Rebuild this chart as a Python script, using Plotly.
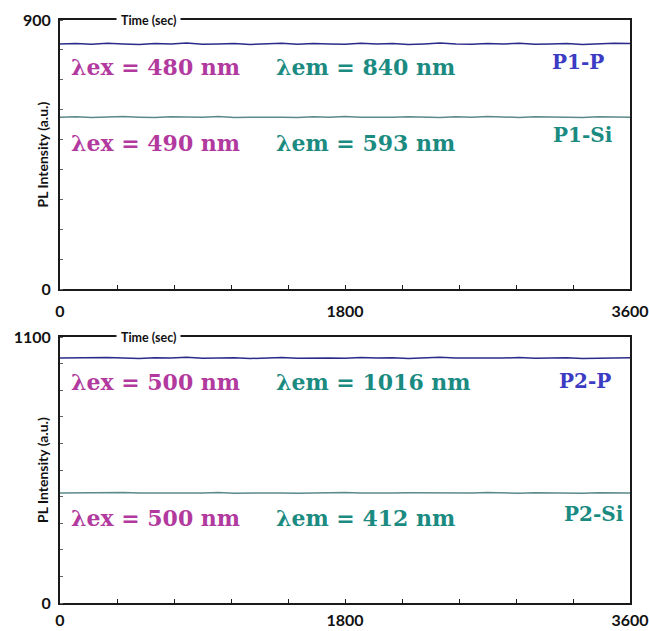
import plotly.graph_objects as go

# ---- data -------------------------------------------------------------
time_s = list(range(0, 3601, 100))

p1_p = [820, 821, 819, 822, 820, 818, 821, 820, 823, 819, 820, 821, 818,
        820, 822, 819, 821, 820, 819, 822, 820, 821, 818, 820, 823, 820,
        819, 821, 820, 822, 819, 820, 821, 818, 820, 822, 821]
p1_si = [575, 576, 574, 575, 577, 575, 574, 576, 575, 575, 577, 574, 575,
         576, 575, 574, 576, 575, 577, 575, 574, 575, 576, 575, 574, 576,
         575, 577, 575, 574, 576, 575, 575, 574, 576, 575, 575]
p2_p = [1013, 1014, 1012, 1015, 1013, 1011, 1014, 1013, 1016, 1012, 1013,
        1014, 1011, 1013, 1015, 1012, 1014, 1013, 1012, 1015, 1013, 1014,
        1011, 1013, 1016, 1013, 1012, 1014, 1013, 1015, 1012, 1013, 1014,
        1011, 1013, 1015, 1014]
p2_si = [455, 456, 454, 455, 457, 455, 454, 456, 455, 455, 457, 454, 455,
         456, 455, 454, 456, 455, 457, 455, 454, 455, 456, 455, 454, 456,
         455, 457, 455, 454, 456, 455, 455, 454, 456, 455, 455]

x_ticks = [0, 1800, 3600]
y_max_top = 900
y_max_bottom = 1100

labels_top = [("λex = 480 nm", "λem = 840 nm", "P1-P"),
              ("λex = 490 nm", "λem = 593 nm", "P1-Si")]
labels_bottom = [("λex = 500 nm", "λem = 1016 nm", "P2-P"),
                 ("λex = 500 nm", "λem = 412 nm", "P2-Si")]

# ---- styling ----------------------------------------------------------
W, H = 649, 631
L, R = 60, 630
TOP = (20, 289)       # pixel rows of the upper panel (top, bottom)
BOT = (337, 603)      # pixel rows of the lower panel

C_P = "#2b2b8a"
C_SI = "#5b8a88"
C_EX = "#b2399e"
C_EM = "#1b8b82"
C_NAME = "#3b3bc4"
AXIS = "#1a1a1a"
LABEL_FONT = "DejaVu Serif"
TICK_FONT = "Lato"

fig = go.Figure()
fig.add_trace(go.Scatter(x=time_s, y=p1_p, mode="lines",
                         line=dict(color=C_P, width=1.5), xaxis="x", yaxis="y"))
fig.add_trace(go.Scatter(x=time_s, y=p1_si, mode="lines",
                         line=dict(color=C_SI, width=1.5), xaxis="x", yaxis="y"))
fig.add_trace(go.Scatter(x=time_s, y=p2_p, mode="lines",
                         line=dict(color=C_P, width=1.5), xaxis="x2", yaxis="y2"))
fig.add_trace(go.Scatter(x=time_s, y=p2_si, mode="lines",
                         line=dict(color=C_SI, width=1.5), xaxis="x2", yaxis="y2"))

plot_h = BOT[1] - TOP[0]


def ydomain(rows):
    return [(BOT[1] - rows[1]) / plot_h, (BOT[1] - rows[0]) / plot_h]


def xaxis_cfg(anchor, standoff):
    return dict(domain=[0, 1], range=[0, 3600], anchor=anchor, automargin=False,
                tickvals=x_ticks, ticktext=[str(v) for v in x_ticks],
                ticks="inside", ticklen=4, tickcolor=AXIS,
                minor=dict(dtick=360, tick0=0, ticks="inside", ticklen=4, tickcolor=AXIS),
                showline=True, linecolor=AXIS, linewidth=2, mirror=True,
                showgrid=False, zeroline=False, ticklabelstandoff=standoff,
                tickfont=dict(family=TICK_FONT, size=16, color="#111", weight="bold"))


def yaxis_cfg(anchor, rows, ymax, step):
    return dict(domain=ydomain(rows), range=[0, ymax], anchor=anchor, automargin=False,
                tickvals=[0, ymax], ticktext=["0", str(ymax)],
                ticks="", minor=dict(dtick=step, tick0=0, ticks="inside",
                                     ticklen=3, tickcolor="#666"),
                showline=True, linecolor=AXIS, linewidth=2, mirror=True,
                showgrid=False, zeroline=False, ticklabelstandoff=4,
                tickfont=dict(family=TICK_FONT, size=16, color="#111", weight="bold"))


fig.update_layout(
    width=W, height=H, showlegend=False,
    paper_bgcolor="white", plot_bgcolor="white",
    margin=dict(l=L, r=W - R, t=TOP[0], b=H - BOT[1]),
    xaxis=xaxis_cfg("y", 7), yaxis=yaxis_cfg("x", TOP, y_max_top, 100),
    xaxis2=xaxis_cfg("y2", 2), yaxis2=yaxis_cfg("x2", BOT, y_max_bottom, 110),
)

ann = []


def px_to_dom(px, py, rows):
    return (px - L) / (R - L), (rows[1] - py) / (rows[1] - rows[0])


for rows, xr, yr, label_rows, line_rows in [
        (TOP, "x domain", "y domain", labels_top, [(67, 62), (143, 135)]),
        (BOT, "x2 domain", "y2 domain", labels_bottom, [(382, 381), (518, 514)])]:
    # axis title sitting on the top frame line
    tx, ty = px_to_dom(148, rows[0], rows)
    ann.append(dict(x=tx, y=ty, xref=xr, yref=yr, text="<b>Time (sec)</b>",
                    showarrow=False, bgcolor="white", borderpad=4,
                    font=dict(family=TICK_FONT, size=12.5, color="#111"),
                    xanchor="center", yanchor="middle"))
    # y axis title
    yx, yy = px_to_dom(42, (rows[0] + rows[1]) / 2, rows)
    ann.append(dict(x=yx, y=yy, xref=xr, yref=yr, text="<b>PL Intensity (a.u.)</b>",
                    textangle=-90, showarrow=False,
                    font=dict(family=TICK_FONT, size=14, color="#111"),
                    xanchor="center", yanchor="middle"))
    for (ex, em, name), (py_text, py_name) in zip(label_rows, line_rows):
        x0, y0 = px_to_dom(69, py_text, rows)
        ann.append(dict(x=x0, y=y0, xref=xr, yref=yr, text=f"<b>{ex}</b>",
                        showarrow=False, xanchor="left", yanchor="middle",
                        font=dict(family=LABEL_FONT, size=22, color=C_EX)))
        x1, y1 = px_to_dom(274, py_text, rows)
        ann.append(dict(x=x1, y=y1, xref=xr, yref=yr, text=f"<b>{em}</b>",
                        showarrow=False, xanchor="left", yanchor="middle",
                        font=dict(family=LABEL_FONT, size=22, color=C_EM)))
        name_color = C_NAME if name.endswith("-P") else C_EM
        right_px = 615 if name.startswith("P1") and name.endswith("Si") else (
            626 if name.endswith("Si") else (606 if name.startswith("P1") else 613))
        x2, y2 = px_to_dom(right_px, py_name, rows)
        ann.append(dict(x=x2, y=y2, xref=xr, yref=yr, text=f"<b>{name}</b>",
                        showarrow=False, xanchor="right", yanchor="middle",
                        font=dict(family=LABEL_FONT, size=20, color=name_color)))

fig.update_layout(annotations=ann)
fig.write_html("out.html")
